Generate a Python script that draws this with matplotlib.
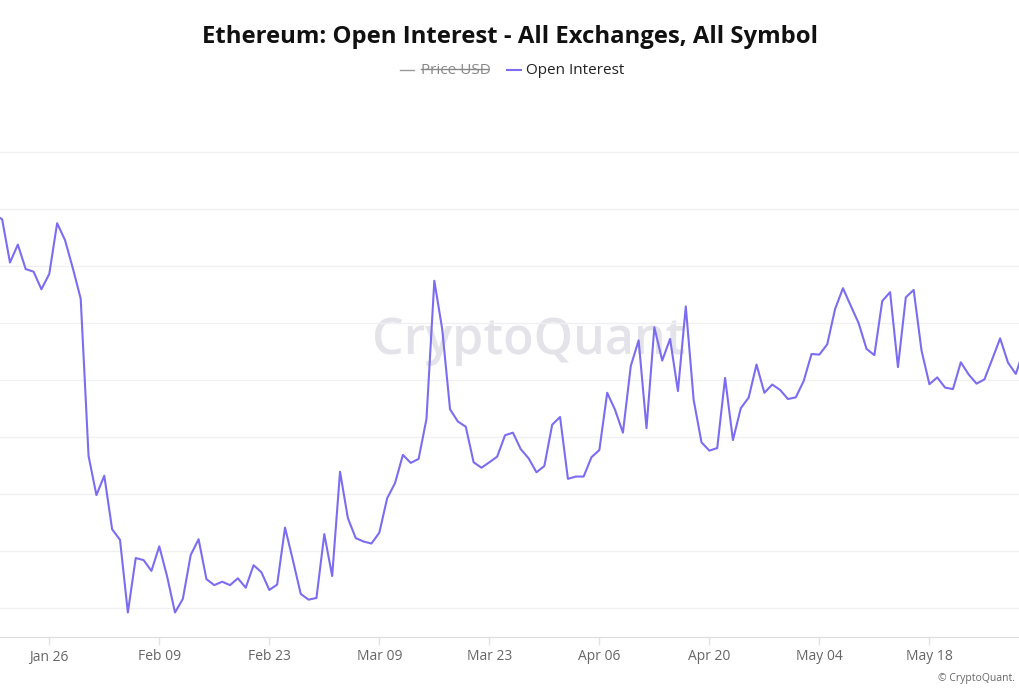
import datetime as dt
import numpy as np
import matplotlib
matplotlib.use('Agg')
import matplotlib.pyplot as plt
import matplotlib.dates as mdates
from matplotlib.lines import Line2D

# daily open interest (billion USD, approx), starting Jan 19 2025
start_date = dt.date(2025, 1, 19)
open_interest = [
    33.80, 33.64, 32.12, 32.75, 31.89, 31.80, 31.18, 31.72, 33.50, 32.91,
    31.92, 30.85, 25.33, 23.96, 24.64, 22.76, 22.39, 19.84, 21.75, 21.68,
    21.30, 22.16, 21.10, 19.84, 20.32, 21.86, 22.41, 21.01, 20.80, 20.92,
    20.80, 21.04, 20.71, 21.50, 21.25, 20.63, 20.82, 22.82, 21.68, 20.49,
    20.29, 20.35, 22.59, 21.12, 24.78, 23.15, 22.45, 22.33, 22.26, 22.64,
    23.85, 24.38, 25.37, 25.09, 25.23, 26.63, 31.48, 29.79, 26.97, 26.54,
    26.36, 25.11, 24.92, 25.11, 25.31, 26.06, 26.15, 25.57, 25.25, 24.76,
    24.98, 26.43, 26.70, 24.53, 24.61, 24.61, 25.29, 25.54, 27.55, 26.95,
    26.15, 28.49, 29.39, 26.31, 29.85, 28.68, 29.44, 27.61, 30.58, 27.30,
    25.81, 25.52, 25.61, 28.07, 25.89, 27.01, 27.38, 28.54, 27.55, 27.84,
    27.65, 27.33, 27.39, 27.96, 28.91, 28.89, 29.25, 30.49, 31.22, 30.60,
    29.99, 29.09, 28.87, 30.77, 31.08, 28.45, 30.90, 31.16, 29.03, 27.85,
    28.09, 27.73, 27.68, 28.62, 28.19, 27.87, 28.02, 28.73, 29.46, 28.61,
    28.21, 29.05,
]
dates = [start_date + dt.timedelta(days=i) for i in range(len(open_interest))]

tick_dates = [dt.date(2025, 1, 26) + dt.timedelta(days=14 * k) for k in range(9)]
grid_levels = np.arange(20, 37, 2)

title = 'Ethereum: Open Interest - All Exchanges, All Symbol'
line_color = '#7b6cf2'


def main():
    plt.rcParams['font.family'] = ['Open Sans', 'DejaVu Sans']
    fig = plt.figure(figsize=(10.2, 7), dpi=100)
    ax = fig.add_axes([0, 0.09, 1, 0.767])

    ax.plot(dates, open_interest, color=line_color, lw=1.5, zorder=3)

    # x range: a bit before Jan 26 to end of May
    x0 = mdates.date2num(dt.datetime(2025, 1, 26)) - 6.27
    ax.set_xlim(x0, x0 + 129.8)
    ax.set_ylim(18.98, 37.82)

    ax.set_yticks(grid_levels)
    ax.yaxis.grid(True, color='#f0f0f3', lw=1)
    ax.tick_params(axis='y', left=False, labelleft=False)

    ax.set_xticks(tick_dates)
    ax.xaxis.set_major_formatter(mdates.DateFormatter('%b %d'))
    ax.tick_params(axis='x', colors='#e2e2e2', length=6, width=1, labelsize=10,
                   labelcolor='#666666', pad=3)

    for s in ['top', 'left', 'right']:
        ax.spines[s].set_visible(False)
    ax.spines['bottom'].set_color('#dcdcdc')

    # watermark
    ax.text(0.518, 0.552, 'CryptoQuant', transform=ax.transAxes, fontsize=36,
            fontweight='semibold', color='#e3e3e9', ha='center', va='center', zorder=1)

    fig.text(0.5, 1 - 37 / 700, title, ha='center', va='center', fontsize=17.2,
             fontweight='bold', color='#111111')

    # legend (Price USD is hidden -> struck through)
    ly = 1 - 70 / 700
    fig.add_artist(Line2D([400 / 1020, 414 / 1020], [ly, ly], color='#999999', lw=1))
    fig.text(421 / 1020, ly, 'Price USD', ha='left', va='center', fontsize=11, color='#888888')
    fig.add_artist(Line2D([421 / 1020, 488 / 1020], [ly + 0.001, ly + 0.001], color='#888888', lw=1))
    fig.add_artist(Line2D([507 / 1020, 521 / 1020], [ly, ly], color=line_color, lw=1.5))
    fig.text(526 / 1020, ly, 'Open Interest', ha='left', va='center', fontsize=11, color='#222222')

    fig.text(1015 / 1020, 1 - 678 / 700, '© CryptoQuant.', ha='right', va='center',
             fontsize=7.5, color='#666666')

    fig.savefig('out.png', dpi=100)


if __name__ == '__main__':
    main()
